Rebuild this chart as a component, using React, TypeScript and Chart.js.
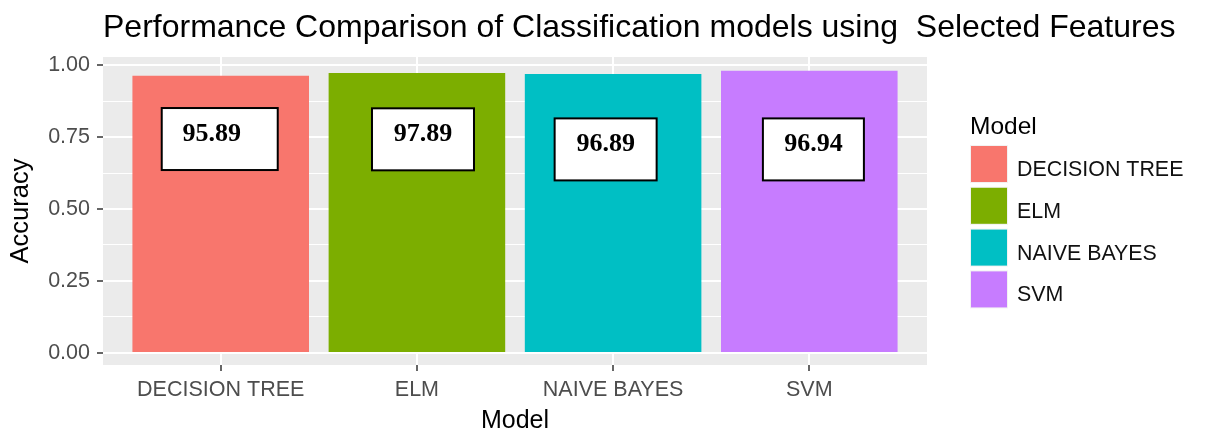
import React, { useEffect, useRef } from "react";
import { Chart, registerables } from "chart.js";

Chart.register(...registerables);

const categories = ["DECISION TREE", "ELM", "NAIVE BAYES", "SVM"];
const accuracy = [0.963, 0.972, 0.969, 0.98];
const barColors = ["#F8766D", "#7CAE00", "#00BFC4", "#C77CFF"];
const yTickValues = [0, 0.125, 0.25, 0.375, 0.5, 0.625, 0.75, 0.875, 1.0];
const xTickValues = [0, 1, 2, 3];
const labelTexts = ["95.89", "97.89", "96.89", "96.94"];
const labelX = [-0.005, 1.031, 1.962, 3.021];
const labelY = [0.743, 0.742, 0.707, 0.707];

const TITLE = "Performance Comparison of Classification models using  Selected Features";
const SANS = "'Liberation Sans', Arial, sans-serif";
const SERIF = "'Liberation Serif', 'Times New Roman', serif";
const boxWidths = [116, 102, 102, 101];
const textOffsets = [-8, 0, 0, 0];

const isMinor = (v: number) => Math.abs(v * 4 - Math.round(v * 4)) > 1e-6;

const decorPlugin = {
  id: "decor",
  beforeDraw(chart: any) {
    const { ctx, chartArea } = chart;
    ctx.save();
    ctx.fillStyle = "#EBEBEB";
    ctx.fillRect(chartArea.left, chartArea.top, chartArea.right - chartArea.left, chartArea.bottom - chartArea.top);
    ctx.restore();
  },
  afterDraw(chart: any) {
    const { ctx, chartArea } = chart;
    const xs = chart.scales.x;
    const ys = chart.scales.y;
    ctx.save();
    // title
    ctx.fillStyle = "#000";
    ctx.font = `32px ${SANS}`;
    ctx.textAlign = "left";
    ctx.textBaseline = "alphabetic";
    ctx.fillText(TITLE, chartArea.left, 36.5);

    // annotation boxes
    for (let i = 0; i < labelTexts.length; i++) {
      const cx = xs.getPixelForValue(labelX[i]);
      const cy = ys.getPixelForValue(labelY[i]);
      const w = boxWidths[i];
      const h = 62;
      ctx.fillStyle = "#FFFFFF";
      ctx.fillRect(cx - w / 2, cy - h / 2, w, h);
      ctx.strokeStyle = "#000";
      ctx.lineWidth = 2;
      ctx.strokeRect(cx - w / 2, cy - h / 2, w, h);
      ctx.fillStyle = "#000";
      ctx.font = `bold 26px ${SERIF}`;
      ctx.textAlign = "center";
      ctx.textBaseline = "middle";
      ctx.fillText(labelTexts[i], cx + textOffsets[i], cy - 4.8);
    }

    // legend
    const lx = chartArea.right + 43;
    ctx.fillStyle = "#000";
    ctx.font = `24.5px ${SANS}`;
    ctx.textAlign = "left";
    ctx.textBaseline = "alphabetic";
    ctx.fillText("Model", lx, 134);
    for (let i = 0; i < categories.length; i++) {
      const top = 145 + i * 41.8;
      ctx.fillStyle = "#F2F2F2";
      ctx.fillRect(lx, top, 38, 38);
      ctx.fillStyle = barColors[i];
      ctx.fillRect(lx + 1, top + 1, 36, 36);
      ctx.fillStyle = "#111";
      ctx.font = `21.4px ${SANS}`;
      ctx.fillText(categories[i], lx + 47, top + 31);
    }
    ctx.restore();
  },
};

export default function App() {
  const ref = useRef<HTMLCanvasElement | null>(null);
  useEffect(() => {
    document.body.style.margin = "0";
    const canvas = ref.current;
    if (!canvas) return;
    const chart = new Chart(canvas, {
      type: "bar",
      data: {
        datasets: [
          {
            data: categories.map((c, i) => ({ x: i, y: accuracy[i] })),
            backgroundColor: barColors,
            borderWidth: 0,
            categoryPercentage: 1,
            barPercentage: 0.9,
          } as any,
        ],
      },
      options: {
        animation: false,
        responsive: false,
        maintainAspectRatio: false,
        layout: { padding: { top: 57, right: 279, bottom: 0, left: 0 } },
        plugins: {
          legend: { display: false },
          tooltip: { enabled: false },
          title: { display: false },
        },
        scales: {
          x: {
            type: "linear",
            offset: false,
            min: -0.6,
            max: 3.6,
            afterBuildTicks: (scale: any) => {
              scale.ticks = xTickValues.map((v) => ({ value: v }));
            },
            afterFit: (scale: any) => {
              scale.height = 71;
            },
            border: { display: false },
            grid: {
              offset: false,
              color: "#FFFFFF",
              lineWidth: 2,
              tickColor: "#333333",
              tickWidth: 1.5,
              tickLength: 6,
              drawTicks: true,
            },
            ticks: {
              autoSkip: false,
              maxRotation: 0,
              padding: 6,
              color: "#4D4D4D",
              font: { family: SANS, size: 21.5 },
              callback: (v: any) => categories[Math.round(Number(v))] ?? "",
            },
            title: {
              display: true,
              text: "Model",
              color: "#000",
              font: { family: SANS, size: 25 },
              padding: { top: 0, bottom: 0 },
            },
          },
          y: {
            type: "linear",
            min: -0.042,
            max: 1.028,
            afterBuildTicks: (scale: any) => {
              scale.ticks = yTickValues.map((v) => ({ value: v }));
            },
            afterFit: (scale: any) => {
              scale.width = 103;
            },
            border: { display: false },
            grid: {
              color: "#FFFFFF",
              lineWidth: (ctx: any) => (ctx.tick && isMinor(ctx.tick.value) ? 1 : 2),
              tickColor: (ctx: any) => (ctx.tick && isMinor(ctx.tick.value) ? "rgba(0,0,0,0)" : "#333333"),
              tickWidth: 1.5,
              tickLength: 6,
              drawTicks: true,
            },
            ticks: {
              autoSkip: false,
              padding: 7,
              color: "#4D4D4D",
              font: { family: SANS, size: 21.5 },
              callback: (v: any) => (isMinor(Number(v)) ? "" : Number(v).toFixed(2)),
            },
            title: {
              display: true,
              text: "Accuracy",
              color: "#000",
              font: { family: SANS, size: 25.5 },
              padding: { top: 6, bottom: 0 },
            },
          },
        },
      } as any,
      plugins: [decorPlugin],
    });
    return () => chart.destroy();
  }, []);
  return (
    <div style={{ width: 1206, height: 436, background: "#FFFFFF" }}>
      <canvas ref={ref} width={1206} height={436} style={{ width: 1206, height: 436, display: "block" }} />
    </div>
  );
}
